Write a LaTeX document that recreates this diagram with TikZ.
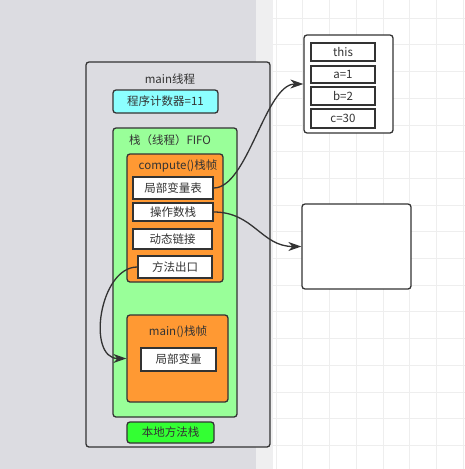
\documentclass[tikz,border=0pt]{standalone}
\usepackage{fontspec}
\setmainfont{Noto Sans CJK SC}
\usetikzlibrary{arrows.meta}
\definecolor{bggray}{HTML}{DCDCE1}
\definecolor{strip}{HTML}{EFEFF0}
\definecolor{gridc}{HTML}{EEEEEE}
\definecolor{edge}{HTML}{333333}
\definecolor{txt}{HTML}{333333}
\definecolor{cyanf}{HTML}{8CFFFF}
\definecolor{greenf}{HTML}{99FF99}
\definecolor{orangef}{HTML}{FF9933}
\definecolor{brightg}{HTML}{33FF33}
\tikzset{
  box/.style={draw=edge, line width=1.3pt, rounded corners=3pt, inner sep=0pt, text=txt},
  cell/.style={draw=edge, line width=1.3pt, fill=white, inner sep=0pt, text=txt, font=\fontsize{11.5}{13}\selectfont},
  lbl/.style={inner sep=0pt, text=txt, font=\fontsize{11.5}{13}\selectfont},
  conn/.style={draw=edge, line width=1.3pt, -{Stealth[length=13pt,width=9pt,inset=4pt]}}
}
\begin{document}
\begin{tikzpicture}[x=1pt,y=-1pt]
\useasboundingbox (0,0) rectangle (465,469);
% background
\fill[bggray] (0,0) rectangle (256,469);
\fill[strip] (256,0) rectangle (273,469);
\fill[white] (273,0) rectangle (465,469);
\foreach \i in {0,...,7} {
  \draw[gridc, line width=0.6pt] (276+\i*26.7,0) -- (276+\i*26.7,469);
}
\foreach \j in {0,...,17} {
  \draw[gridc, line width=0.6pt] (273,18+\j*26.7) -- (465,18+\j*26.7);
}
% main thread
\node[box, fill=bggray, minimum width=184pt, minimum height=385pt] (thread) at (178,254.5) {};
\node[lbl] (threadt) at (170,79) {main线程};
\node[box, fill=cyanf, minimum width=105pt, minimum height=23pt, font=\fontsize{11.5}{13}\selectfont] (pc) at (165.5,101.5) {程序计数器=11};
\node[box, fill=greenf, minimum width=124pt, minimum height=289pt] (stack) at (175,272.5) {};
\node[lbl] (stackt) at (170,140) {栈（线程）FIFO};
% compute frame
\node[box, fill=orangef, minimum width=96pt, minimum height=128pt] (cf) at (175,218) {};
\node[lbl] (cft) at (178,166) {compute()栈帧};
\node[cell, minimum width=80pt, minimum height=22pt] (lvt) at (173,188) {局部变量表};
\node[cell, minimum width=80pt, minimum height=18pt] (ops) at (173,212) {操作数栈};
\node[cell, minimum width=79pt, minimum height=20pt] (dyn) at (172.5,239) {动态链接};
\node[cell, minimum width=74pt, minimum height=22pt] (exit) at (175,267) {方法出口};
% main frame
\node[box, fill=orangef, minimum width=101pt, minimum height=87pt] (mf) at (177.5,358.5) {};
\node[lbl] (mft) at (178,332) {main()栈帧};
\node[cell, minimum width=75pt, minimum height=23pt] (lv) at (178.5,359.5) {局部变量};
% native stack
\node[box, fill=brightg, minimum width=87pt, minimum height=21pt, font=\fontsize{11.5}{13}\selectfont] (native) at (170.5,432.5) {本地方法栈};
% heap objects
\node[box, fill=white, minimum width=89pt, minimum height=98pt] (obj) at (348.5,84) {};
\node[cell, minimum width=64pt, minimum height=18pt] (this) at (343,52) {this};
\node[cell, minimum width=64pt, minimum height=17pt] (a) at (343,74.5) {a=1};
\node[cell, minimum width=64pt, minimum height=18pt] (b) at (343,96) {b=2};
\node[cell, minimum width=64pt, minimum height=19pt] (c) at (343,118.5) {c=30};
\node[box, fill=white, minimum width=109pt, minimum height=85pt] (empty) at (356.5,246.5) {};
% connectors
\draw[conn] (lvt.east) .. controls +(34,0) and +(-38,0) .. (obj.west);
\draw[conn] (ops.east) .. controls +(40,0) and +(-40,0) .. (empty.west);
\draw[conn] (exit.west) .. controls +(-38,0) and +(-40,0) .. (mf.west);
\end{tikzpicture}
\end{document}
